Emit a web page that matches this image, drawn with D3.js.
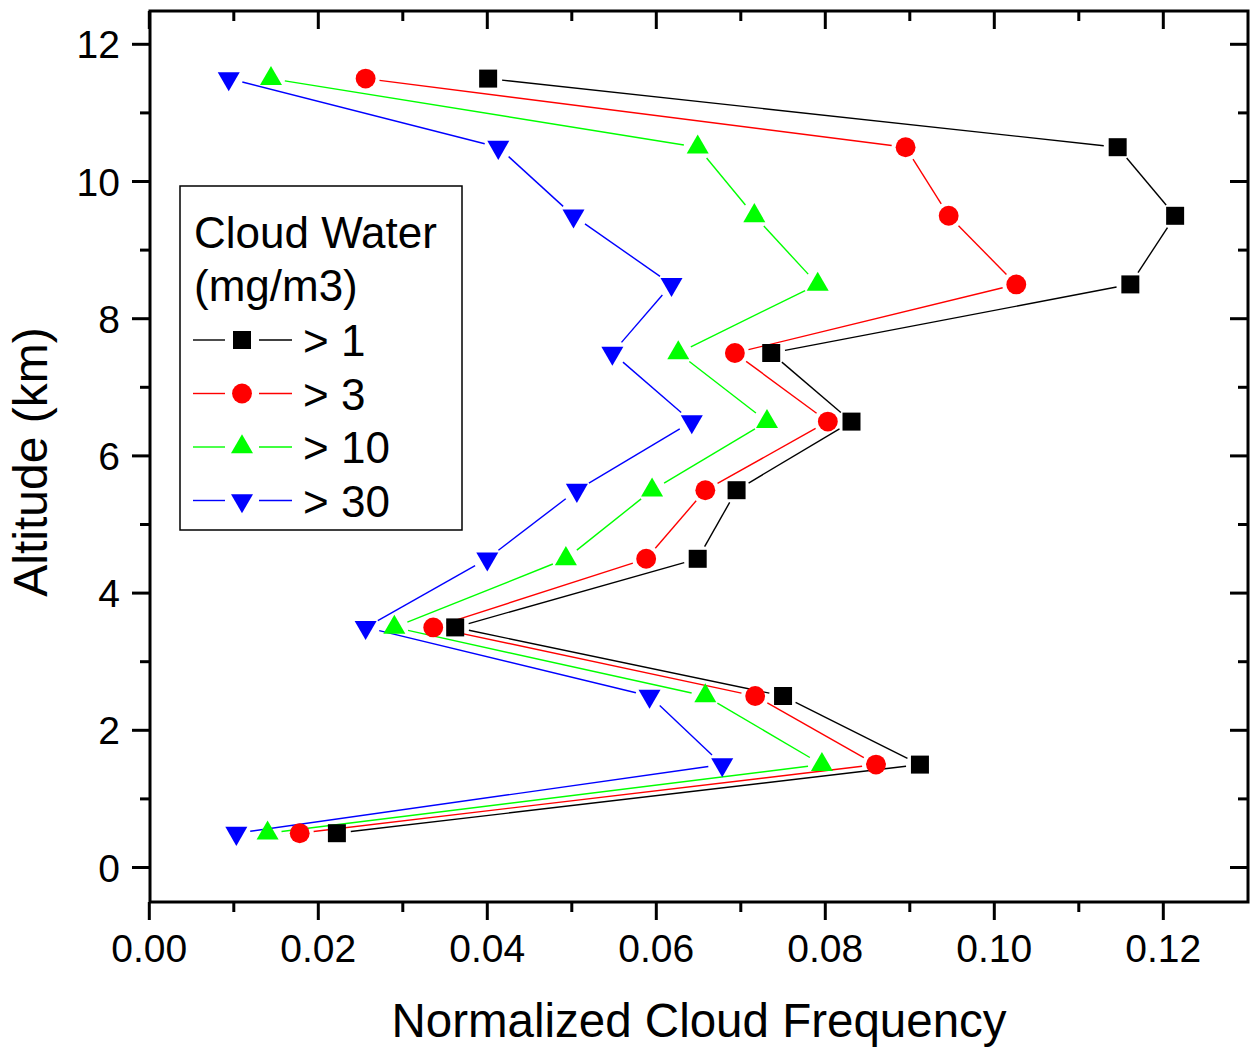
<!DOCTYPE html>
<html>
<head>
<meta charset="utf-8">
<script src="https://cdn.jsdelivr.net/npm/d3@7"></script>
<style>
  body { margin: 0; background: #fff; }
  text { font-family: "Liberation Sans", Arial, sans-serif; fill: #000; }
</style>
</head>
<body>
<svg id="chart" width="1251" height="1048"></svg>
<script>
// altitude levels (km) and normalized cloud frequency per cloud water threshold
var altitudes = [0.5, 1.5, 2.5, 3.5, 4.5, 5.5, 6.5, 7.5, 8.5, 9.5, 10.5, 11.5];
var gt1  = [0.0222, 0.0912, 0.0750, 0.0362, 0.0649, 0.0695, 0.0831, 0.0736, 0.1161, 0.1214, 0.1146, 0.0401];
var gt3  = [0.0178, 0.0860, 0.0717, 0.0336, 0.0588, 0.0658, 0.0803, 0.0693, 0.1026, 0.0946, 0.0895, 0.0256];
var gt10 = [0.0140, 0.0796, 0.0658, 0.0290, 0.0493, 0.0595, 0.0731, 0.0626, 0.0791, 0.0716, 0.0649, 0.0144];
var gt30 = [0.0103, 0.0678, 0.0592, 0.0256, 0.0400, 0.0506, 0.0642, 0.0548, 0.0618, 0.0502, 0.0413, 0.0094];
var seriesNames = ["> 1", "> 3", "> 10", "> 30"];
var xTicks = [0.00, 0.02, 0.04, 0.06, 0.08, 0.10, 0.12];
var yTicks = [0, 2, 4, 6, 8, 10, 12];

var series = [
  { name: seriesNames[0], values: gt1,  color: "#000000", shape: "square" },
  { name: seriesNames[1], values: gt3,  color: "#ff0000", shape: "circle" },
  { name: seriesNames[2], values: gt10, color: "#00ff00", shape: "up" },
  { name: seriesNames[3], values: gt30, color: "#0000ff", shape: "down" }
];

var svg = d3.select("#chart");
var plotL = 150, plotR = 1248, plotT = 11, plotB = 902;

var x = d3.scaleLinear().domain([0, 0.13]).range([149.3, 149.3 + 0.13 / 0.02 * 169]);
var y = d3.scaleLinear().domain([0, 12]).range([867.5, 867.5 - 12 * 68.6]);

function symbolPath(shape) {
  if (shape === "square") return d3.symbol().type(d3.symbolSquare).size(324)();
  if (shape === "circle") return d3.symbol().type(d3.symbolCircle).size(310)();
  return d3.symbol().type(d3.symbolTriangle).size(210)();
}
function symbolTransform(shape, px, py) {
  return "translate(" + px + "," + py + ")" + (shape === "down" ? " rotate(180)" : "");
}

// frame
svg.append("rect")
  .attr("x", plotL).attr("y", plotT)
  .attr("width", plotR - plotL).attr("height", plotB - plotT)
  .attr("fill", "none").attr("stroke", "#000").attr("stroke-width", 3);

// ticks
var xMinor = d3.range(0.01, 0.13, 0.02);
var yMinor = d3.range(1, 13, 2);
var tickG = svg.append("g").attr("stroke", "#000").attr("stroke-width", 3);
xTicks.forEach(function (v) {
  tickG.append("line").attr("x1", x(v)).attr("x2", x(v)).attr("y1", plotB).attr("y2", plotB + 18);
  tickG.append("line").attr("x1", x(v)).attr("x2", x(v)).attr("y1", plotT).attr("y2", plotT + 18);
});
xMinor.forEach(function (v) {
  tickG.append("line").attr("x1", x(v)).attr("x2", x(v)).attr("y1", plotB).attr("y2", plotB + 10);
  tickG.append("line").attr("x1", x(v)).attr("x2", x(v)).attr("y1", plotT).attr("y2", plotT + 10);
});
yTicks.forEach(function (v) {
  tickG.append("line").attr("x1", plotL).attr("x2", plotL - 18).attr("y1", y(v)).attr("y2", y(v));
  tickG.append("line").attr("x1", plotR).attr("x2", plotR - 18).attr("y1", y(v)).attr("y2", y(v));
});
yMinor.forEach(function (v) {
  tickG.append("line").attr("x1", plotL).attr("x2", plotL - 10).attr("y1", y(v)).attr("y2", y(v));
  tickG.append("line").attr("x1", plotR).attr("x2", plotR - 10).attr("y1", y(v)).attr("y2", y(v));
});

// tick labels
svg.append("g").selectAll("text")
  .data(xTicks).enter().append("text")
  .attr("x", function (d) { return x(d); })
  .attr("y", 962)
  .attr("text-anchor", "middle")
  .attr("font-size", "39px")
  .text(function (d) { return d3.format(".2f")(d); });

svg.append("g").selectAll("text")
  .data(yTicks).enter().append("text")
  .attr("x", 120)
  .attr("y", function (d) { return y(d) + 14; })
  .attr("text-anchor", "end")
  .attr("font-size", "39px")
  .text(function (d) { return d; });

// axis titles
svg.append("text")
  .attr("x", 699).attr("y", 1037)
  .attr("text-anchor", "middle")
  .attr("font-size", "47.5px")
  .text("Normalized Cloud Frequency");

svg.append("text")
  .attr("transform", "translate(47,462) rotate(-90)")
  .attr("text-anchor", "middle")
  .attr("font-size", "48px")
  .text("Altitude (km)");

// lines with gaps around the markers
var gap = 14;
series.forEach(function (s) {
  var pts = altitudes.map(function (a, i) { return [x(s.values[i]), y(a)]; });
  var g = svg.append("g").attr("stroke", s.color).attr("stroke-width", 1.4);
  for (var i = 0; i < pts.length - 1; i++) {
    var p = pts[i], q = pts[i + 1];
    var dx = q[0] - p[0], dy = q[1] - p[1];
    var len = Math.sqrt(dx * dx + dy * dy);
    if (len <= 2 * gap) continue;
    var ux = dx / len, uy = dy / len;
    g.append("line")
      .attr("x1", p[0] + ux * gap).attr("y1", p[1] + uy * gap)
      .attr("x2", q[0] - ux * gap).attr("y2", q[1] - uy * gap);
  }
});

// markers
series.forEach(function (s) {
  svg.append("g").selectAll("path")
    .data(altitudes).enter().append("path")
    .attr("d", symbolPath(s.shape))
    .attr("transform", function (a, i) { return symbolTransform(s.shape, x(s.values[i]), y(a)); })
    .attr("fill", s.color);
});

// legend
var legend = svg.append("g");
legend.append("rect")
  .attr("x", 180).attr("y", 186)
  .attr("width", 282).attr("height", 344)
  .attr("fill", "#fff").attr("stroke", "#000").attr("stroke-width", 1.5);
legend.append("text").attr("x", 194).attr("y", 248).attr("font-size", "44px").text("Cloud Water");
legend.append("text").attr("x", 194).attr("y", 301).attr("font-size", "44px").text("(mg/m3)");

series.forEach(function (s, i) {
  var cy = 340 + i * 53.5;
  var row = legend.append("g");
  row.append("line").attr("x1", 193).attr("x2", 225).attr("y1", cy).attr("y2", cy)
    .attr("stroke", s.color).attr("stroke-width", 1.4);
  row.append("line").attr("x1", 259).attr("x2", 292).attr("y1", cy).attr("y2", cy)
    .attr("stroke", s.color).attr("stroke-width", 1.4);
  row.append("path").attr("d", symbolPath(s.shape))
    .attr("transform", symbolTransform(s.shape, 242, cy))
    .attr("fill", s.color);
  row.append("text").attr("x", 303).attr("y", cy + 16).attr("font-size", "44px").text(s.name);
});
</script>
</body>
</html>
